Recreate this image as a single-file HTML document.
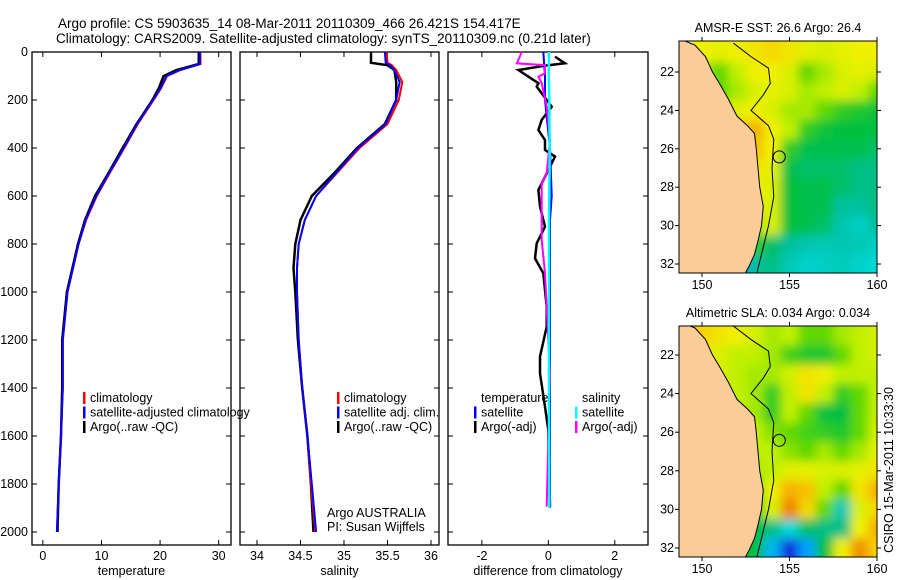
<!DOCTYPE html>
<html><head><meta charset="utf-8"><style>
body{margin:0;background:#fff;}
svg{display:block;font-family:"Liberation Sans",sans-serif;}
text{font-size:12.5px;fill:#000;}
</style></head><body>
<svg id="fig" width="900" height="580" viewBox="0 0 900 580">
<defs>
<filter id="soft" x="-10%" y="-10%" width="120%" height="120%">
<feGaussianBlur stdDeviation="5"/>
<feComponentTransfer><feFuncA type="linear" slope="4"/></feComponentTransfer>
</filter>
</defs>
<text x="58" y="28" style="font-size:13.5px">Argo profile: CS 5903635_14 08-Mar-2011 20110309_466 26.421S 154.417E</text>
<text x="56" y="43" style="font-size:13.5px">Climatology: CARS2009. Satellite-adjusted climatology: synTS_20110309.nc (0.21d later)</text>
<g id="g"></g>
<text transform="translate(893,470) rotate(-90)" text-anchor="middle">CSIRO 15-Mar-2011 10:33:30</text>
</svg>
<script>
// ---- profile data ----
const tDepth=[0,50,75,100,150,200,300,400,500,600,700,800,1000,1200,1400,1600,1800,2000];
const tClim=[26.9,26.9,23.5,21.2,20.2,18.9,16.2,13.9,11.5,9.2,7.4,6.1,4.2,3.4,3.4,3.1,2.7,2.4];
const tSat=[26.8,26.8,23.4,21.1,20.1,18.8,16.1,13.8,11.4,9.1,7.3,6.1,4.2,3.4,3.4,3.1,2.7,2.4];
const tArgo=[26.6,26.6,22.8,20.6,19.8,18.7,16.0,13.6,11.3,8.9,7.2,6.0,4.1,3.3,3.3,3.1,2.7,2.5];
const sDepth=[0,45,55,75,125,200,300,400,500,600,700,800,900,1000,1200,1400,1600,1800,2000];
const sClim=[35.49,35.5,35.55,35.6,35.67,35.63,35.5,35.18,34.93,34.68,34.55,34.48,34.46,34.46,34.48,34.52,34.58,34.62,34.67];
const sSat=[35.47,35.48,35.53,35.58,35.64,35.6,35.48,35.16,34.92,34.68,34.55,34.48,34.46,34.46,34.48,34.52,34.58,34.63,34.68];
const sArgo=[35.31,35.31,35.5,35.58,35.6,35.6,35.47,35.15,34.9,34.63,34.5,34.44,34.42,34.44,34.47,34.52,34.58,34.62,34.65];
const dTDepth=[19,47,55,75,89,130,144,228,283,325,367,408,436,506,575,644,728,797,860,922,1061,1144,1269,1339,1478,1575,1894];
const dTArgo=[0.2,0.5,0,-0.9,-0.75,-0.3,-0.35,0.1,-0.2,-0.3,-0.1,-0.1,0.2,-0.05,-0.3,-0.25,-0.1,-0.35,-0.4,-0.15,-0.05,-0.05,-0.25,-0.25,-0.1,0,0.05];
const dSDepth=[0,47,55,89,103,130,228,367,506,548,644,783,922,1061,1339,1617,1894];
const dSArgo=[-0.8,-0.95,-0.1,-0.1,-0.3,-0.2,-0.05,0.05,-0.05,-0.2,-0.2,-0.2,-0.1,-0.05,0.05,0,-0.05];
const satDepth=[0,100,200,400,600,700,1000,1400,1900];
const dTSat=[-0.15,-0.1,-0.1,0.05,0.1,0.05,0.05,0.05,0.05];
const dSSat=[0.02,0.01,0.03,0.04,0.03,0.02,0.02,0.02,0.03];
const depthTicks=[0,200,400,600,800,1000,1200,1400,1600,1800,2000];
const tTicks=[0,10,20,30], sTicks=[34,34.5,35,35.5,36], dTicks=[-2,0,2];
// ---- map grids (rows lat 21..32, cols lon 150..160) ----
const mapLats=[21,22,23,24,25,26,27,28,29,30,31,32];
const mapLons=[150,151,152,153,154,155,156,157,158,159,160];
const sstGrid=[
[.7,.68,.7,.72,.74,.72,.68,.66,.68,.7,.7],
[.6,.55,.62,.7,.7,.66,.55,.6,.66,.68,.66],
[.6,.55,.6,.66,.68,.66,.6,.62,.66,.62,.55],
[.6,.6,.68,.7,.66,.6,.6,.55,.5,.48,.46],
[.6,.6,.75,.8,.7,.62,.5,.46,.45,.45,.45],
[.6,.6,.7,.78,.7,.5,.44,.44,.44,.44,.42],
[.7,.7,.7,.72,.68,.44,.42,.42,.42,.4,.4],
[.72,.72,.72,.7,.66,.45,.44,.44,.42,.4,.4],
[.72,.72,.72,.68,.66,.45,.44,.44,.38,.38,.4],
[.6,.6,.6,.6,.66,.45,.44,.42,.36,.33,.38],
[.2,.2,.2,.5,.42,.38,.36,.35,.36,.35,.33],
[.2,.2,.2,.38,.4,.35,.32,.33,.34,.32,.3]];
const slaGrid=[
[.75,.72,.7,.65,.6,.62,.55,.55,.6,.62,.65],
[.7,.66,.62,.62,.6,.52,.48,.48,.55,.62,.65],
[.68,.66,.62,.6,.6,.65,.72,.7,.62,.62,.62],
[.68,.65,.62,.6,.5,.62,.72,.62,.5,.55,.62],
[.65,.62,.62,.6,.5,.62,.55,.45,.45,.55,.62],
[.62,.62,.62,.62,.58,.55,.52,.5,.48,.55,.65],
[.62,.62,.62,.62,.62,.58,.55,.6,.55,.6,.68],
[.62,.62,.62,.6,.62,.68,.68,.66,.66,.68,.72],
[.62,.62,.6,.55,.7,.8,.78,.62,.55,.72,.8],
[.55,.55,.5,.5,.66,.86,.74,.55,.35,.66,.74],
[.45,.45,.45,.45,.4,.3,.42,.4,.4,.7,.8],
[.45,.45,.45,.45,.25,.08,.22,.45,.7,.84,.75]];
const coastLon=[149.6,150.2,150.6,151,151.5,152,152.6,153,153.1,153.2,153.3,153.5,153.4,153.2,153,152.7,152.4];
const coastLat=[20.6,21.2,22,22.6,23.4,24.3,24.8,25.2,26,27,28,29,30,30.8,31.5,32.1,32.6];
const isoLon=[151.8,152.8,153.8,153.9,153.5,152.8,153.8,154.1,154.0,154.1,153.8,153.4,153.1];
const isoLat=[20.5,21.2,21.8,22.6,23.2,24,24.8,25.5,27,28.5,30,31.5,32.6];
const argoLon=154.417, argoLat=26.421;

const NS='http://www.w3.org/2000/svg', G=document.getElementById('g');
function mk(tag,at,parent){const e=document.createElementNS(NS,tag);for(const k in at)e.setAttribute(k,at[k]);(parent||G).appendChild(e);return e;}
const yD=d=>52+d*0.24;
const colStops=[[0,[0,16,160]],[.12,[16,64,255]],[.22,[0,160,255]],[.3,[0,216,216]],[.38,[0,192,160]],[.45,[0,192,64]],[.55,[96,216,0]],[.62,[192,240,0]],[.7,[240,240,0]],[.78,[248,192,0]],[.86,[240,128,0]],[1,[176,48,0]]];
function cmap(v){for(let i=1;i<colStops.length;i++){if(v<=colStops[i][0]){const a=colStops[i-1],b=colStops[i],t=(v-a[0])/(b[0]-a[0]);return 'rgb('+a[1].map((c,j)=>Math.round(c+(b[1][j]-c)*t)).join(',')+')';}}return 'rgb(176,48,0)';}

function panel(name,x0,x1,xmin,xmax,xTicks,xlabel,showY){
  const xs=v=>x0+(v-xmin)/(xmax-xmin)*(x1-x0);
  const g=mk('g',{});
  
  
  mk('rect',{x:x0,y:52,width:x1-x0,height:493,fill:'none',stroke:'#000','stroke-width':1.3},g);
  depthTicks.forEach(d=>{const y=yD(d);
    mk('line',{x1:x0,x2:x0+5,y1:y,y2:y,stroke:'#000'},g);mk('line',{x1:x1-5,x2:x1,y1:y,y2:y,stroke:'#000'},g);
    if(showY){const t=mk('text',{x:x0-4,y:y+4,'text-anchor':'end'},g);t.textContent=d;
      
      }});
  xTicks.forEach(v=>{const x=xs(v);
    mk('line',{x1:x,x2:x,y1:545,y2:540,stroke:'#000'},g);mk('line',{x1:x,x2:x,y1:52,y2:57,stroke:'#000'},g);
    const t=mk('text',{x:x,y:560,'text-anchor':'middle'},g);t.textContent=v;
    
    });
  const lt=mk('text',{x:(x0+x1)/2,y:575,'text-anchor':'middle'},g);lt.textContent=xlabel;
  
  
  return xs;
}
function line(xs,vals,deps,color,w,name){
  const p=mk('polyline',{points:vals.map((v,i)=>xs(v).toFixed(1)+','+yD(deps[i]).toFixed(1)).join(' '),fill:'none',stroke:color,'stroke-width':w});
  
  
}
function legend(x,y,items){
  items.forEach((it,i)=>{const yy=y+i*14.5;
    if(it[1]){const r=mk('rect',{x:x,y:yy-10,width:2.5,height:12,fill:it[1]});
      
      }
    const t=mk('text',{x:x+7,y:yy});t.textContent=it[0];
    
    });
}
// temperature
let xs=panel('temperature',32,231,-1.85,32.1,tTicks,'temperature',true);
line(xs,tArgo,tDepth,'#000',2.5,'temp-argo-line');
line(xs,tClim,tDepth,'#f00',2,'temp-climatology-line');
line(xs,tSat,tDepth,'#00f',2,'temp-satellite-line');
legend(83,402,[['climatology','#f00'],['satellite-adjusted climatology','#00f'],['Argo(..raw -QC)','#000']]);
// salinity
xs=panel('salinity',240,439,33.805,36.092,sTicks,'salinity',false);
line(xs,sArgo,sDepth,'#000',2.5,'sal-argo-line');
line(xs,sClim,sDepth,'#f00',2,'sal-climatology-line');
line(xs,sSat,sDepth,'#00f',2,'sal-satellite-line');
legend(337,402,[['climatology','#f00'],['satellite adj. clim.','#00f'],['Argo(..raw -QC)','#000']]);
let t1=mk('text',{x:327,y:517});t1.textContent='Argo AUSTRALIA';
let t2=mk('text',{x:327,y:531});t2.textContent='PI: Susan Wijffels';
// diff
xs=panel('difference',448,648,-3.02,3.0,dTicks,'difference from climatology',false);
line(xs,dTArgo,dTDepth,'#000',2.5,'temp-diff-argo-line');
line(xs,dTSat,satDepth,'#00f',2,'temp-diff-satellite-line');
line(xs,dSArgo,dSDepth,'#f0f',2,'sal-diff-argo-line');
line(xs,dSSat,satDepth,'#0ff',2.5,'sal-diff-satellite-line');
legend(474,402,[['temperature',null],['satellite','#00f'],['Argo(-adj)','#000']]);
legend(575,402,[['salinity',null],['satellite','#0ff'],['Argo(-adj)','#f0f']]);

// maps
function map(name,top,bottom,lat22y,lat32y,grid,title){
  const L=679,R=877;
  const xl=lon=>702+(lon-150)*17.5;
  const yl=lat=>lat22y+(lat-22)*(lat32y-lat22y)/10;
  const g=mk('g',{});
  
  
  const cid='clip'+name;const cp=mk('clipPath',{id:cid},g);mk('rect',{x:L,y:top,width:R-L,height:bottom-top},cp);
  const inner=mk('g',{'clip-path':'url(#'+cid+')'},g);
  const cells=mk('g',{filter:'url(#soft)'},inner);
  mapLats.forEach((lat,i)=>mapLons.forEach((lon,j)=>{
    const c=mk('rect',{x:xl(lon-0.5),y:yl(lat-0.5),width:17.8,height:(yl(1)-yl(0))+0.4,fill:cmap(grid[i][j])},cells);
    
    }));
  const pts=coastLon.map((lo,i)=>xl(lo)+','+yl(coastLat[i])).join(' ');
  const land=mk('polygon',{points:xl(148)+','+yl(20)+' '+pts+' '+xl(148)+','+yl(33),fill:'#fbcb98',stroke:'#000','stroke-width':1},inner);
  
  
  const iso=mk('polyline',{points:isoLon.map((lo,i)=>xl(lo)+','+yl(isoLat[i])).join(' '),fill:'none',stroke:'#000','stroke-width':1},inner);
  
  
  const c=mk('circle',{cx:xl(argoLon),cy:yl(argoLat),r:6,fill:'none',stroke:'#000','stroke-width':1},g);
  
  
  mk('rect',{x:L,y:top,width:R-L,height:bottom-top,fill:'none',stroke:'#000'},g);
  [22,24,26,28,30,32].forEach(lat=>{const y=yl(lat);mk('line',{x1:L-4,x2:L,y1:y,y2:y,stroke:'#000'},g);mk('line',{x1:R,x2:R+4,y1:y,y2:y,stroke:'#000'},g);
    const t=mk('text',{x:L-5,y:y+4,'text-anchor':'end'},g);t.textContent=lat;
    
    });
  [150,155,160].forEach(lon=>{const x=xl(lon);mk('line',{x1:x,x2:x,y1:bottom,y2:bottom+4,stroke:'#000'},g);mk('line',{x1:x,x2:x,y1:top-4,y2:top,stroke:'#000'},g);
    const t=mk('text',{x:x,y:bottom+16,'text-anchor':'middle'},g);t.textContent=lon;
    
    });
  const tt=mk('text',{x:(L+R)/2,y:top-9,'text-anchor':'middle'},g);tt.textContent=title;
  
  
}
map('sst-map',41,273,72,264,sstGrid,'AMSR-E SST: 26.6 Argo: 26.4');
map('sla-map',326,557,355,548,slaGrid,'Altimetric SLA: 0.034 Argo: 0.034');
</script>
</body></html>
